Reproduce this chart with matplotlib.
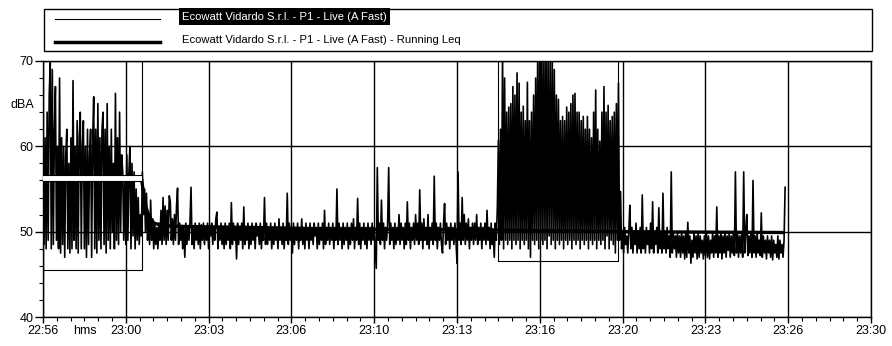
import numpy as np
import matplotlib
matplotlib.use("Agg")
import matplotlib.pyplot as plt
import matplotlib.dates as mdates
from matplotlib.patches import Rectangle
from matplotlib.lines import Line2D
from matplotlib.ticker import FixedLocator, MultipleLocator

plt.rcParams["font.family"] = ["Liberation Sans", "DejaVu Sans"]

# ---------------------------------------------------------------------------
# A-weighted fast level (dBA), one reading every 2.5 s.
# Each block starts at the given number of seconds after 22:56:40.
# ---------------------------------------------------------------------------
start_time = np.datetime64("2000-01-01T22:56:40")
sample_step_ms = 2500

burst_early_start_s = 0
burst_early = [
    63, 48.5, 61, 48, 64, 49, 66, 69.8, 48, 69, 48.5, 62, 67, 49, 60, 48, 68, 47.5, 61, 48.5,
    60, 47, 59, 62, 48, 58, 47.5, 61, 48, 67.7, 49, 60, 48, 63, 47.5, 61, 64, 48, 60, 63,
    48, 60, 47, 62, 48.5, 59, 62, 47, 61, 65.8, 48, 62, 47.5, 65, 49, 61, 48, 62, 64, 48.5,
    62, 47.5, 65, 49, 60, 48, 62, 50, 58, 48, 66.2, 49, 61, 48.5, 64, 50, 59, 57, 49, 56,
    48.5, 59, 49, 57, 60, 48, 58, 49.5, 57, 48, 55, 49, 54, 48.5, 52, 49.5,
]

quiet_mid_start_s = 240
quiet_mid = [
    57, 52, 55, 50, 54.5, 49, 52, 48.5, 53.7, 49, 51.5, 48, 51, 48.5, 50.5, 48, 51, 49, 52.5, 48.5,
    54, 49, 53, 48.5, 52.5, 49, 54.2, 53.5, 49, 51.5, 48.5, 52, 49, 53, 55.1, 48.5, 51, 49, 50.5, 48,
    50.5, 47, 51, 48.5, 50.5, 49, 51, 55.2, 48.5, 50.5, 48, 51, 49, 50.5, 48.5, 51, 48, 50.8, 49, 51,
    48.5, 50.5, 49, 51, 48, 50.5, 49.5, 51, 48.5, 50.5, 49, 51.5, 52.3, 48, 50.5, 49, 51, 48.5, 50.5, 48,
    51, 48.5, 50.5, 49, 51, 48, 53.4, 48.5, 51, 49, 50.5, 46.8, 51, 48.5, 50.5, 49, 51, 48, 52.9, 48.5,
    50.5, 49, 51, 48, 50.5, 48.5, 51, 49, 50.5, 48, 51, 49.5, 50.5, 48.5, 51, 48, 50.5, 49, 54, 48.5,
    51, 48.5, 50.5, 49, 51, 48, 50.5, 48.5, 51, 49, 50.5, 48, 51.5, 49, 50.5, 48.5, 51, 48, 50.5, 49,
    54.5, 48.5, 51, 49, 50.5, 47.5, 51, 48.5, 50.5, 49, 51, 48, 50.5, 49, 51.5, 48.5, 50.5, 48, 51, 49,
    50.5, 48, 51, 49, 50.5, 48.5, 51, 49.5, 50.5, 48, 51, 48.5, 50.5, 49, 51, 48, 52.5, 48.5, 50.5, 49,
    51, 48.5, 50.5, 49, 51, 48, 50.5, 49, 55, 48.5, 51, 49, 50.5, 48, 51, 48.5, 50.5, 49, 51, 48,
    50.5, 48.5, 51, 49, 51.5, 48, 50.5, 49, 53.9, 48.5, 51, 48, 50.5, 49, 51, 48.5, 50.5, 48, 51, 49,
    50.5, 48.5, 51, 49, 50.5, 48, 45.7, 57.5, 49, 51, 48.5, 53.7, 49, 51, 48, 50.5, 49, 51, 57.5, 48.5,
    51, 49, 50.5, 48, 51, 48.5, 50.5, 49, 52, 48.5, 51, 49, 50.5, 48, 51, 48.5, 53.5, 49, 51, 48,
    50.5, 49, 51, 48.5, 52, 49, 51, 48.5, 54.9, 49, 51, 48, 51.5, 49, 50.5, 48.5, 52, 48, 50.5, 49,
    51, 48.5, 56.5, 49, 51, 48, 50.5, 49, 51, 48.5, 47.5, 51, 53.3, 48.5, 51, 49, 50.5, 48, 51, 49,
    50.5, 48.5, 51, 49, 46.3, 57, 49, 51, 48.5, 54, 49, 52, 48.5, 51, 49, 51.5, 48, 50.5, 49, 51,
    48.5, 51, 49, 52, 48.5, 50.5, 49, 51, 48, 50.5, 49, 51, 48.5, 52.5, 49, 50.5, 48, 51, 48.5, 50,
    47, 51, 49, 53,
]

burst_late_start_s = 1100
burst_late = [
    60.7, 48.5, 62, 49, 71, 48, 68, 49, 64, 48.5, 64.6, 49, 65, 48, 67, 49, 66, 48.5, 68.6, 49,
    67.4, 48, 64, 49, 64.7, 48.5, 63, 49, 67.5, 48, 63, 47, 64, 49, 66, 48.5, 68, 49, 72, 48,
    71, 49, 72, 48.5, 71, 49, 72, 48, 71, 49.5, 70, 48.5, 71, 49, 69, 48, 66, 49, 65.5, 48.5,
    63, 49, 63.5, 48, 63, 49, 64.6, 48.5, 64, 49, 65, 48, 66, 49, 66.2, 48.5, 64, 49, 64, 48,
    63, 49, 63.5, 48.5, 62, 49, 63.5, 48, 62, 49, 61, 48.5, 64, 49, 66.6, 48, 62, 49, 60.6, 48.5,
    64, 49, 67, 48, 64, 49.5, 64.8, 48, 63, 49, 63.5, 48.5, 64, 47.5, 65, 49, 67.4, 49,
]

quiet_end_start_s = 1395
quiet_end = [
    54.7, 48, 50, 47.5, 50.5, 48.5, 49.5, 47.5, 50, 53.1, 48, 50.5, 47.5, 50, 48.5, 51, 47.5, 50, 48, 50.5,
    47.5, 54.3, 48, 50, 47.5, 50.5, 48.5, 50, 47.5, 51, 48, 53.5, 47.5, 50, 48.5, 50.5, 47.5, 52.8, 48, 50,
    47.5, 54.5, 48, 50, 47.5, 50.5, 48, 49.5, 47, 57, 47.5, 50, 48, 49.5, 47, 50, 47.5, 49.5, 47, 50,
    47.5, 49.5, 46.8, 50, 47, 51.1, 47.5, 49.5, 46.3, 49, 47, 50, 47.5, 49.5, 46.8, 50, 47, 49.5, 47.5, 49,
    46.8, 49.5, 47.2, 50, 47, 49.5, 46.8, 49, 47.5, 50, 47, 49.5, 47.5, 52.9, 47, 49.5, 47.5, 50, 46.8, 49.5,
    47.5, 50, 47, 49.5, 47.8, 50, 47, 49.5, 47.5, 50, 47.2, 57, 47.5, 50, 47, 49.5, 47.5, 50, 47, 57,
    47.5, 50, 52, 47.2, 49.5, 47.5, 50, 47, 56, 47.5, 49.5, 47, 50, 47.5, 49, 47.2, 52.2, 47, 49.5, 47.5,
    49, 46.8, 49.5, 47.5, 49, 47, 49.5, 46.7, 49, 47.5, 48.5, 47, 49.5, 46.8, 49, 47.5, 48.5, 47, 49, 55.2,
]

# Running Leq: (seconds after start, dBA)
leq_offset_s = [0, 238, 242, 248, 256, 268, 290, 350, 500, 700, 1095, 1390, 1792]
leq_db = [56.2, 56.2, 54.8, 53.0, 51.8, 51.0, 50.7, 50.6, 50.5, 50.3, 50.2, 50.0, 49.9]

# Marked intervals: start / end (s after start) and lower edge (dBA)
marker_start_s = [0, 1099]
marker_end_s = [239, 1390]
marker_floor_db = [45.5, 46.6]
marker1_band_db = [55.9, 56.6]

axis_span_s = 2000
major_step_s = 200
y_ticks = [40, 50, 60, 70]
series_labels = [
    "Ecowatt Vidardo S.r.l. - P1 - Live (A Fast)",
    "Ecowatt Vidardo S.r.l. - P1 - Live (A Fast) - Running Leq",
]

# ---------------------------------------------------------------------------
W, H = 892, 346
fig = plt.figure(figsize=(W / 100, H / 100), dpi=100)
fx = lambda px: px / W
fy = lambda py: 1 - py / H

ax = fig.add_axes([fx(43), fy(317), (871 - 43) / W, (317 - 61) / H])

sec = np.timedelta64(1, "s")
ms = np.timedelta64(1, "ms")

blocks = [(burst_early_start_s, burst_early), (quiet_mid_start_s, quiet_mid),
          (burst_late_start_s, burst_late), (quiet_end_start_s, quiet_end)]
times = np.concatenate([start_time + s0 * sec + np.arange(len(v)) * sample_step_ms * ms
                        for s0, v in blocks])
live_db = np.concatenate([np.asarray(v, dtype=float) for _, v in blocks])
leq_times = start_time + np.array(leq_offset_s) * sec

ax.plot(times, live_db, color="black", lw=1.2, zorder=3)
ax.plot(leq_times, leq_db, color="black", lw=2.4, zorder=4, solid_capstyle="butt")

# marker boxes
for s0, s1, lo in zip(marker_start_s, marker_end_s, marker_floor_db):
    t0 = start_time + s0 * sec
    t1 = start_time + s1 * sec
    ax.plot([t0, t0, t1, t1], [70, lo, lo, 70], color="black", lw=0.8, zorder=5)

# Leq band of the first marker
t0 = start_time + marker_start_s[0] * sec
t1 = start_time + marker_end_s[0] * sec
ax.fill_between([t0, t1], marker1_band_db[0], marker1_band_db[1],
                color="white", lw=0, zorder=5)
for lvl in marker1_band_db:
    ax.plot([t0, t1], [lvl, lvl], color="black", lw=0.8, zorder=6)

# axes, ticks, grid
end_time = start_time + axis_span_s * sec
ax.set_xlim(start_time, end_time)
ax.set_ylim(40, 70)

major = start_time + np.arange(0, axis_span_s + 1, major_step_s) * sec
minor_ms = np.round(np.arange(0, axis_span_s + 1, major_step_s / 6) * 1000).astype(int)
minor = start_time + minor_ms * ms
ax.xaxis.set_major_locator(FixedLocator(mdates.date2num(major)))
ax.xaxis.set_minor_locator(FixedLocator(mdates.date2num(minor)))
ax.xaxis.set_major_formatter(mdates.DateFormatter("%H:%M"))

ax.set_yticks(y_ticks)
ax.yaxis.set_minor_locator(MultipleLocator(2))

ax.tick_params(axis="x", which="major", direction="out", length=4.5, width=1,
               labelsize=9, pad=1.5)
ax.tick_params(axis="x", which="minor", direction="out", length=2.8, width=0.8)
ax.tick_params(axis="y", which="major", direction="out", length=5.8, width=1,
               labelsize=9, pad=1)
ax.tick_params(axis="y", which="minor", direction="out", length=2.8, width=0.8)

ax.grid(True, which="major", color="black", lw=1.0, zorder=1)
ax.set_axisbelow(True)
for sp in ax.spines.values():
    sp.set_linewidth(1.0)
    sp.set_color("black")

fig.text(fx(22), fy(105), "dBA", fontsize=9, ha="center", va="center")
fig.text(fx(84.5), fy(331), "hms", fontsize=9, ha="center", va="center")

# legend panel
fig.patches.append(Rectangle((fx(44), fy(51)), (872 - 44) / W, (51 - 9) / H,
                             transform=fig.transFigure, fill=False,
                             ec="black", lw=1.0))
fig.lines.append(Line2D([fx(55), fx(160)], [fy(19), fy(19)],
                        transform=fig.transFigure, color="black", lw=0.8))
fig.lines.append(Line2D([fx(55), fx(160)], [fy(41.5), fy(41.5)],
                        transform=fig.transFigure, color="black", lw=2.5))

legend_size = 8.1
fig.text(fx(182), fy(16.5), series_labels[0], fontsize=legend_size,
         color="white", ha="left", va="center",
         bbox=dict(boxstyle="square,pad=0.3", fc="black", ec="none"))
fig.text(fx(182), fy(40), series_labels[1], fontsize=legend_size,
         color="black", ha="left", va="center")

fig.savefig("out.png", dpi=100)
